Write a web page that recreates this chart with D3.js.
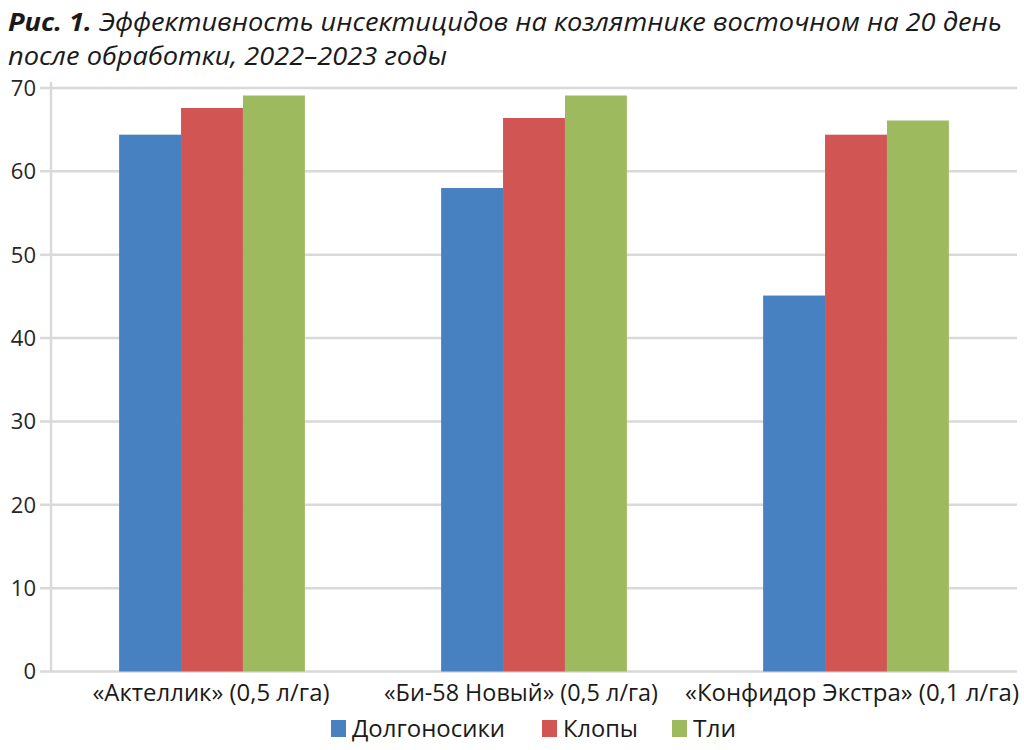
<!DOCTYPE html>
<html><head><meta charset="utf-8">
<script src="https://cdn.jsdelivr.net/npm/d3@7"></script>
<style>body{margin:0;background:#fff}svg{display:block}</style>
</head><body>
<svg id="c" width="1024" height="750"></svg>
<script>
const categories = ["«Актеллик» (0,5 л/га)", "«Би-58 Новый» (0,5 л/га)", "«Конфидор Экстра» (0,1 л/га)"];
const seriesNames = ["Долгоносики", "Клопы", "Тли"];
const dolgonosiki = [64.4, 58.0, 45.1];
const klopy = [67.6, 66.4, 64.4];
const tli = [69.1, 69.1, 66.1];
const yTicks = [0, 10, 20, 30, 40, 50, 60, 70];
const colors = ["#4781C1", "#D05553", "#9DBB5E"];
const seriesValues = [dolgonosiki, klopy, tli];

const svg = d3.select("#c");
const plot = {left: 51, right: 1017, top: 88, bottom: 671.5};

const x0 = d3.scaleBand().domain(categories).range([plot.left, plot.right]).padding(0);
const x1 = d3.scaleBand().domain(seriesNames).range([0, x0.bandwidth()]).paddingInner(0).paddingOuter(1.1);
const y = d3.scaleLinear().domain([0, 70]).range([plot.bottom, plot.top]);

// Title
const title = svg.append("g").attr("fill", "#1a1a1a").style("font-family", "'Open Sans', sans-serif").style("font-size", "25px");
const t1 = title.append("text").attr("x", 8).attr("y", 31).attr("textLength", 994).attr("lengthAdjust", "spacingAndGlyphs");
t1.append("tspan").attr("font-weight", "bold").attr("font-style", "italic").text("Рис. 1. ");
t1.append("tspan").attr("font-style", "italic").text("Эффективность инсектицидов на козлятнике восточном на 20 день");
title.append("text").attr("x", 8).attr("y", 65).attr("font-style", "italic").attr("textLength", 439).attr("lengthAdjust", "spacingAndGlyphs").text("после обработки, 2022–2023 годы");

// Gridlines
svg.append("g").selectAll("line").data(yTicks).join("line")
  .attr("x1", 40).attr("x2", plot.right)
  .attr("y1", d => y(d)).attr("y2", d => y(d))
  .attr("stroke", "#D9D9D9").attr("stroke-width", 2.5);

// Y axis line
svg.append("line").attr("x1", plot.left).attr("x2", plot.left).attr("y1", y(70) - 6).attr("y2", y(0))
  .attr("stroke", "#D9D9D9").attr("stroke-width", 2.5);

// Y axis labels
const yAxis = d3.axisLeft(y).tickValues(yTicks).tickSize(0).tickPadding(0);
const ya = svg.append("g").attr("transform", "translate(36,0)").call(yAxis);
ya.select(".domain").remove();
ya.selectAll("text").attr("fill", "#262626").style("font-family", "'Open Sans', sans-serif").style("font-size", "22px").attr("dy", "0.34em");

// Bars
const groups = svg.append("g").selectAll("g").data(categories).join("g")
  .attr("transform", d => `translate(${x0(d)},0)`);
groups.selectAll("rect").data((c, i) => seriesNames.map((s, j) => ({s, j, v: seriesValues[j][i]}))).join("rect")
  .attr("x", d => x1(d.s)).attr("width", x1.bandwidth())
  .attr("y", d => y(d.v)).attr("height", d => y(0) - y(d.v))
  .attr("fill", d => colors[d.j]);

// X axis labels
const xLabelWidths = [237, 274, 334];
const xLabelCenters = [211, 521, 852];
svg.append("g").selectAll("text").data(categories).join("text")
  .attr("x", (d, i) => xLabelCenters[i] - xLabelWidths[i] / 2)
  .attr("y", 701)
  .attr("textLength", (d, i) => xLabelWidths[i]).attr("lengthAdjust", "spacingAndGlyphs")
  .attr("fill", "#1a1a1a").style("font-family", "'Open Sans', sans-serif").style("font-size", "23px")
  .text(d => d);

// Legend
const legendX = [331, 542, 672];
const legendTextW = [153, 75, 43];
const lg = svg.append("g").selectAll("g").data(seriesNames).join("g")
  .attr("transform", (d, i) => `translate(${legendX[i]},720)`);
lg.append("rect").attr("width", 15).attr("height", 17).attr("fill", (d, i) => colors[i]);
lg.append("text").attr("x", 21).attr("y", 17)
  .attr("textLength", (d, i) => legendTextW[i]).attr("lengthAdjust", "spacingAndGlyphs")
  .attr("fill", "#1a1a1a").style("font-family", "'Open Sans', sans-serif").style("font-size", "23px")
  .text(d => d);
</script>
</body></html>
